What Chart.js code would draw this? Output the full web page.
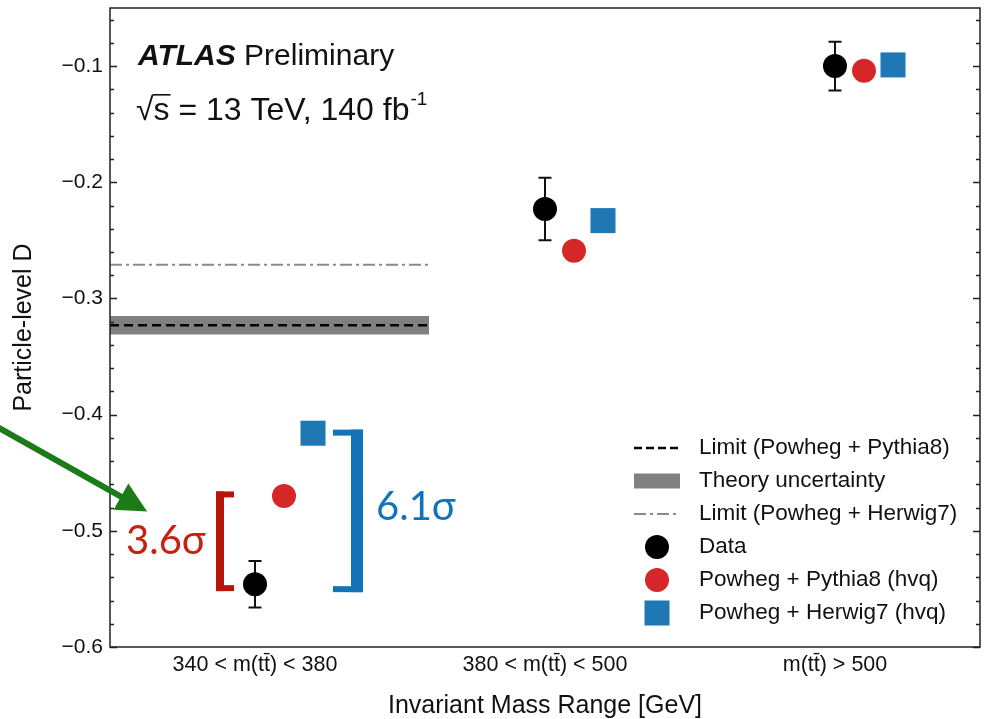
<!DOCTYPE html>
<html>
<head>
<meta charset="utf-8">
<script src="https://cdn.jsdelivr.net/npm/chart.js@4.4.0/dist/chart.umd.min.js"></script>
<style>
  html, body { margin: 0; padding: 0; background: #fff; }
  #caixa { width: 985px; height: 719px; }
</style>
</head>
<body>
<div id="caixa"><canvas id="grafico"></canvas></div>
<script>
const categorias = ["340 < m(tt\u0304) < 380", "380 < m(tt\u0304) < 500", "m(tt\u0304) > 500"];
const dataValues = [-0.546, -0.223, -0.100];
const dataErrors = [0.020, 0.027, 0.021];
const pythiaValues = [-0.470, -0.259, -0.104];
const herwigValues = [-0.416, -0.233, -0.099];
const pythiaLimit = -0.323;
const theoryBand = [-0.331, -0.315];
const herwigLimit = -0.271;
const limitSpan = [-0.5, 0.6];
const yTicks = [-0.6, -0.5, -0.4, -0.3, -0.2, -0.1];

const fonte = "'Liberation Sans', Arial, sans-serif";
const corPreto = "#000000";
const corVermelho = "#d62728";
const corAzul = "#1f77b4";
const corBanda = "#808080";
const corHerwigLine = "#8a8a8a";

const legendItems = [
  { kind: "dash", label: "Limit (Powheg + Pythia8)" },
  { kind: "band", label: "Theory uncertainty" },
  { kind: "dashdot", label: "Limit (Powheg + Herwig7)" },
  { kind: "circle", color: corPreto, label: "Data" },
  { kind: "circle", color: corVermelho, label: "Powheg + Pythia8 (hvq)" },
  { kind: "square", color: corAzul, label: "Powheg + Herwig7 (hvq)" },
];

// annotations in data coordinates
const brackets = [
  { xBar: -0.1207, xCap: -0.0724, yTop: -0.4661, yBot: -0.5519, barW: 8, capW: 6, color: "#b8140c" },
  { xBar: 0.3517, xCap: 0.2690, yTop: -0.4129, yBot: -0.5528, barW: 12, capW: 6, color: "#1174bb" },
];
const sigmaTexts = [
  { text: "3.6\u03c3", x: -0.4448, y: -0.5202, color: "#c62010" },
  { text: "6.1\u03c3", x: 0.4172, y: -0.4910, color: "#1174bb" },
];
const arrow = { from: { x: -0.92, y: -0.4062 }, to: { x: -0.372, y: -0.4833 }, color: "#1b7b17" };

const errorBars = {
  id: "errorBars",
  beforeDatasetsDraw(chart) {
    const { ctx, scales } = chart;
    ctx.save();
    ctx.strokeStyle = "#111";
    ctx.lineWidth = 2;
    dataValues.forEach((v, i) => {
      const x = scales.x.getPixelForValue(i);
      const y1 = scales.y.getPixelForValue(v + dataErrors[i]);
      const y2 = scales.y.getPixelForValue(v - dataErrors[i]);
      ctx.beginPath();
      ctx.moveTo(x, y1); ctx.lineTo(x, y2);
      ctx.moveTo(x - 6.5, y1); ctx.lineTo(x + 6.5, y1);
      ctx.moveTo(x - 6.5, y2); ctx.lineTo(x + 6.5, y2);
      ctx.stroke();
    });
    ctx.restore();
  },
};

const moldura = {
  id: "moldura",
  afterDatasetsDraw(chart) {
    const { ctx, chartArea, scales } = chart;
    ctx.save();
    ctx.strokeStyle = "#222";
    ctx.lineWidth = 1.5;
    ctx.strokeRect(chartArea.left, chartArea.top, chartArea.right - chartArea.left, chartArea.bottom - chartArea.top);
    ctx.beginPath();
    for (let k = 0; k <= 27; k++) {
      const v = -0.6 + k * 0.02;
      const y = Math.round(scales.y.getPixelForValue(v)) + 0.5;
      const len = k % 5 === 0 ? 7 : 4;
      ctx.moveTo(chartArea.left, y); ctx.lineTo(chartArea.left + len, y);
      ctx.moveTo(chartArea.right, y); ctx.lineTo(chartArea.right - len, y);
    }
    ctx.stroke();
    ctx.restore();
  },
};

const legendaInterna = {
  id: "legendaInterna",
  afterDraw(chart) {
    const { ctx, chartArea } = chart;
    const x0 = chartArea.right - 346, x1 = chartArea.right - 300, xc = (x0 + x1) / 2;
    const xt = chartArea.right - 281;
    let y = chartArea.bottom - 199;
    legendItems.forEach((item) => {
      ctx.save();
      if (item.kind === "dash") {
        ctx.strokeStyle = corPreto; ctx.lineWidth = 2.5; ctx.setLineDash([8, 4]);
        ctx.beginPath(); ctx.moveTo(x0, y); ctx.lineTo(x1, y); ctx.stroke();
      } else if (item.kind === "band") {
        ctx.fillStyle = corBanda; ctx.fillRect(x0, y - 7.5, x1 - x0, 15);
      } else if (item.kind === "dashdot") {
        ctx.strokeStyle = corHerwigLine; ctx.lineWidth = 1.8; ctx.setLineDash([12, 4, 3, 4]);
        ctx.beginPath(); ctx.moveTo(x0, y); ctx.lineTo(x1, y); ctx.stroke();
      } else if (item.kind === "circle") {
        ctx.fillStyle = item.color; ctx.beginPath(); ctx.arc(xc, y, 12, 0, Math.PI * 2); ctx.fill();
      } else if (item.kind === "square") {
        ctx.fillStyle = item.color; ctx.fillRect(xc - 12.5, y - 12.5, 25, 25);
      }
      ctx.fillStyle = "#111";
      ctx.font = "22.5px " + fonte;
      ctx.textBaseline = "middle";
      ctx.textAlign = "left";
      ctx.fillText(item.label, xt, y);
      ctx.restore();
      y += 33;
    });
  },
};

const anotacoes = {
  id: "anotacoes",
  afterDraw(chart) {
    const { ctx, scales } = chart;
    const px = (v) => scales.x.getPixelForValue(v);
    const py = (v) => scales.y.getPixelForValue(v);
    ctx.save();
    // ATLAS label
    ctx.fillStyle = "#111";
    ctx.textBaseline = "alphabetic";
    ctx.font = "italic bold 30px " + fonte;
    ctx.fillText("ATLAS", 138, 65);
    const w = ctx.measureText("ATLAS ").width;
    ctx.font = "30px " + fonte;
    ctx.fillText("Preliminary", 138 + w, 65);
    ctx.font = "32px " + fonte;
    const raiz = "\u221a";
    ctx.fillText(raiz, 136, 120);
    const wr = ctx.measureText(raiz).width;
    ctx.fillText("s = 13 TeV, 140 fb", 136 + wr, 120);
    const ws = ctx.measureText("s").width;
    ctx.fillRect(136 + wr - 1, 94, ws + 2, 1.6);
    const wl = ctx.measureText("s = 13 TeV, 140 fb").width;
    ctx.font = "19px " + fonte;
    ctx.fillText("-1", 136 + wr + wl + 1, 105);

    brackets.forEach((b) => {
      const xb = px(b.xBar), xc = px(b.xCap), yt = py(b.yTop), yb = py(b.yBot);
      ctx.fillStyle = b.color;
      ctx.fillRect(xb - b.barW / 2, yt, b.barW, yb - yt);
      const xa = Math.min(xb - b.barW / 2, xc), xz = Math.max(xb + b.barW / 2, xc);
      ctx.fillRect(xa, yt, xz - xa, b.capW);
      ctx.fillRect(xa, yb - b.capW, xz - xa, b.capW);
    });
    sigmaTexts.forEach((s) => {
      ctx.fillStyle = s.color;
      ctx.font = "40px Lato, 'Open Sans', sans-serif";
      ctx.textAlign = "left";
      ctx.fillText(s.text, px(s.x), py(s.y));
    });

    const ax = px(arrow.from.x), ay = py(arrow.from.y), bx = px(arrow.to.x), by = py(arrow.to.y);
    const ang = Math.atan2(by - ay, bx - ax);
    const hl = 30, hw = 15;
    const mx = bx - hl * Math.cos(ang), my = by - hl * Math.sin(ang);
    ctx.strokeStyle = arrow.color;
    ctx.fillStyle = arrow.color;
    ctx.lineWidth = 6;
    ctx.beginPath(); ctx.moveTo(ax, ay); ctx.lineTo(mx + 2 * Math.cos(ang), my + 2 * Math.sin(ang)); ctx.stroke();
    ctx.beginPath();
    ctx.moveTo(bx, by);
    ctx.lineTo(mx + hw * Math.sin(ang), my - hw * Math.cos(ang));
    ctx.lineTo(mx - hw * Math.sin(ang), my + hw * Math.cos(ang));
    ctx.closePath(); ctx.fill();
    ctx.restore();
  },
};

const ctx = document.getElementById("grafico");
const chart = new Chart(ctx, {
  type: "scatter",
  data: {
    datasets: [
      {
        label: "Data",
        data: dataValues.map((v, i) => ({ x: i, y: v })),
        pointStyle: "circle",
        pointRadius: 12,
        pointHoverRadius: 12,
        pointBackgroundColor: corPreto,
        pointBorderWidth: 0,
      },
      {
        label: "Powheg + Pythia8 (hvq)",
        data: pythiaValues.map((v, i) => ({ x: i + 0.1, y: v })),
        pointStyle: "circle",
        pointRadius: 12,
        pointHoverRadius: 12,
        pointBackgroundColor: corVermelho,
        pointBorderWidth: 0,
      },
      {
        label: "Powheg + Herwig7 (hvq)",
        data: herwigValues.map((v, i) => ({ x: i + 0.2, y: v })),
        pointStyle: "rect",
        pointRadius: 17.7,
        pointHoverRadius: 17.7,
        pointBackgroundColor: corAzul,
        pointBorderWidth: 0,
      },
      {
        type: "line",
        label: "Limit (Powheg + Pythia8)",
        data: limitSpan.map((x) => ({ x: x, y: pythiaLimit })),
        borderColor: corPreto,
        borderWidth: 2.5,
        borderDash: [9, 5],
        pointRadius: 0,
        fill: false,
      },
      {
        type: "line",
        label: "Limit (Powheg + Herwig7)",
        data: limitSpan.map((x) => ({ x: x, y: herwigLimit })),
        borderColor: corHerwigLine,
        borderWidth: 1.8,
        borderDash: [12, 4, 3, 4],
        pointRadius: 0,
        fill: false,
      },
      {
        type: "line",
        label: "Theory uncertainty",
        data: limitSpan.map((x) => ({ x: x, y: theoryBand[1] })),
        borderWidth: 0,
        borderColor: "rgba(0,0,0,0)",
        backgroundColor: corBanda,
        pointRadius: 0,
        fill: "+1",
      },
      {
        type: "line",
        label: "band low",
        data: limitSpan.map((x) => ({ x: x, y: theoryBand[0] })),
        borderWidth: 0,
        borderColor: "rgba(0,0,0,0)",
        pointRadius: 0,
        fill: false,
      },
    ],
  },
  options: {
    responsive: true,
    maintainAspectRatio: false,
    animation: false,
    layout: { autoPadding: false, padding: { top: 8, right: 5, left: 0, bottom: 0 } },
    plugins: {
      legend: { display: false },
      tooltip: { enabled: false },
    },
    scales: {
      x: {
        type: "linear",
        min: -0.5,
        max: 2.5,
        grid: { display: false },
        border: { display: false },
        afterBuildTicks: (scale) => {
          scale.ticks = categorias.map((c, i) => ({ value: i }));
        },
        afterFit: (scale) => {
          scale.height = 72;
          scale.paddingLeft = 0;
          scale.paddingRight = 0;
        },
        ticks: {
          autoSkip: false,
          maxRotation: 0,
          padding: -3,
          color: "#111",
          font: { family: fonte, size: 21.5 },
          callback: (v) => categorias[v],
        },
        title: {
          display: true,
          text: "Invariant Mass Range [GeV]",
          color: "#111",
          font: { family: fonte, size: 25, lineHeight: 1 },
          padding: { top: 0, bottom: 0 },
        },
      },
      y: {
        min: -0.6,
        max: -0.05,
        grid: { display: false },
        border: { display: false },
        afterBuildTicks: (scale) => {
          scale.ticks = yTicks.map((v) => ({ value: v }));
        },
        afterFit: (scale) => {
          scale.width = 110;
          scale.paddingTop = 0;
          scale.paddingBottom = 0;
        },
        ticks: {
          padding: -1,
          color: "#111",
          font: { family: fonte, size: 21 },
          callback: (v) => "\u2212" + Math.abs(v).toFixed(1),
        },
        title: {
          display: true,
          text: "Particle-level D",
          color: "#111",
          font: { family: fonte, size: 25, lineHeight: 1 },
          padding: { top: 12, bottom: 0 },
        },
      },
    },
  },
  plugins: [errorBars, moldura, legendaInterna, anotacoes],
});
</script>
</body>
</html>
